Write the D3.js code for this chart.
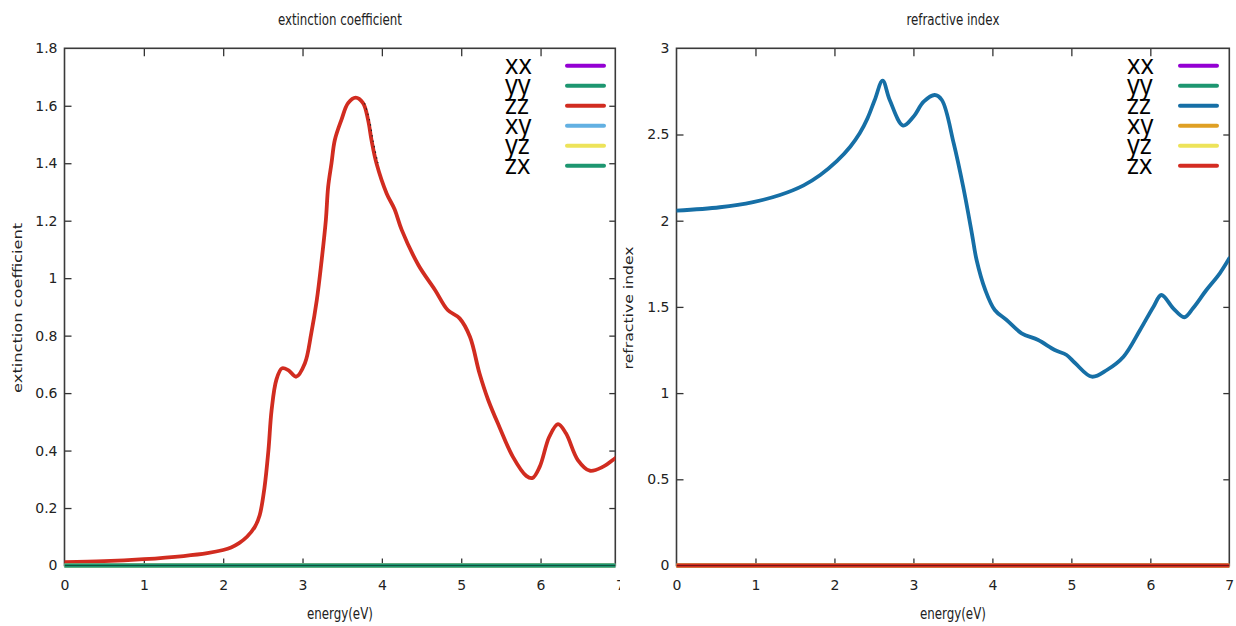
<!DOCTYPE html>
<html>
<head>
<meta charset="utf-8">
<script src="https://cdn.jsdelivr.net/npm/d3@7"></script>
<style>
  body { margin: 0; background: #fff; }
  svg { display: block; }
</style>
</head>
<body>
<svg id="chart" width="1236" height="626"></svg>
<script>
// Tensor components shown in both legends
const components = ["xx", "yy", "zz", "xy", "yz", "zx"];
const colorsExt = ["#9400d3", "#1d9670", "#d12c20", "#62b0e2", "#ede35a", "#1d9670"];
const colorsRef = ["#9400d3", "#1d9670", "#166fa6", "#dfa024", "#ede35a", "#d42c22"];

// Extinction coefficient, zz component
const energyExt = [0, 0.5, 1.0, 1.5, 1.8, 2.0, 2.1, 2.2, 2.3, 2.4, 2.46, 2.52, 2.57, 2.61, 2.67, 2.74,
  2.82, 2.92, 3.03, 3.11, 3.18, 3.24, 3.294, 3.323, 3.365, 3.407, 3.49, 3.574, 3.67, 3.763, 3.826,
  3.869, 3.932, 4.06, 4.16, 4.25, 4.46, 4.67, 4.83, 4.98, 5.11, 5.23, 5.34, 5.48, 5.65, 5.82, 5.9,
  5.99, 6.11, 6.22, 6.32, 6.47, 6.62, 6.79, 6.94, 7.0];
const kappaZZ = [0.012, 0.015, 0.022, 0.033, 0.043, 0.054, 0.063, 0.078, 0.1, 0.135, 0.175, 0.27,
  0.40, 0.54, 0.646, 0.686, 0.68, 0.657, 0.704, 0.808, 0.924, 1.06, 1.202, 1.318, 1.40, 1.481, 1.551,
  1.609, 1.628, 1.609, 1.551, 1.481, 1.40, 1.295, 1.24, 1.168, 1.046, 0.959, 0.889, 0.860, 0.796,
  0.669, 0.576, 0.483, 0.379, 0.312, 0.305, 0.344, 0.448, 0.492, 0.460, 0.367, 0.330, 0.344, 0.373, 0.385];

// Refractive index, zz component
const energyRef = [0, 0.55, 0.97, 1.31, 1.61, 1.82, 2.03, 2.20, 2.32, 2.42, 2.51, 2.61, 2.70, 2.87, 3.00,
  3.13, 3.27, 3.36, 3.51, 3.63, 3.74, 3.80, 3.91, 4.03, 4.18, 4.37, 4.58, 4.79, 4.94, 5.05, 5.26,
  5.45, 5.66, 5.87, 6.04, 6.14, 6.29, 6.43, 6.54, 6.71, 6.88, 7.0];
const nZZ = [2.058, 2.078, 2.108, 2.149, 2.205, 2.265, 2.345, 2.429, 2.507, 2.595, 2.700, 2.812, 2.700,
  2.552, 2.603, 2.690, 2.729, 2.700, 2.449, 2.197, 1.927, 1.772, 1.598, 1.482, 1.424, 1.347, 1.308,
  1.250, 1.221, 1.173, 1.095, 1.134, 1.211, 1.366, 1.501, 1.569, 1.492, 1.440, 1.492, 1.598, 1.695, 1.782];

// Components that stay at zero over the whole range
const flatEnergy = [0, 7];
const flatValue = [0, 0];

// Tick values
const xTicks = [0, 1, 2, 3, 4, 5, 6, 7];
const yTicksExt = [0, 0.2, 0.4, 0.6, 0.8, 1, 1.2, 1.4, 1.6, 1.8];
const yTicksRef = [0, 0.5, 1, 1.5, 2, 2.5, 3];

const svg = d3.select("#chart");
const fmt = d3.format("~g");

const panels = [
  {
    id: "ext", title: "extinction coefficient", titleLen: 124, ylabel: "extinction coefficient",
    ylabelX: 21.5, ylabelLen: 170, left: 64.5, right: 615.3, x7: 619.9, top: 48.3, bottom: 565.5,
    yMax: 1.8, yTicks: yTicksExt, energy: energyExt, values: kappaZZ, colors: colorsExt,
    legendTextX: 506, legendLine: [567, 604], clip: [0, 620], speckle: [3.72, 3.96]
  },
  {
    id: "ref", title: "refractive index", titleLen: 93, ylabel: "refractive index",
    ylabelX: 633.3, ylabelLen: 123, left: 676.5, right: 1229.3, x7: 1229.3, top: 48.3, bottom: 565.5,
    yMax: 3, yTicks: yTicksRef, energy: energyRef, values: nZZ, colors: colorsRef,
    legendTextX: 1128, legendLine: [1180, 1217], clip: [620, 616], speckle: null
  }
];

const defs = svg.append("defs");

panels.forEach(p => {
  const x = d3.scaleLinear().domain([0, 7]).range([p.left, p.x7]);
  const y = d3.scaleLinear().domain([0, p.yMax]).range([p.bottom, p.top]);

  defs.append("clipPath").attr("id", "panel-" + p.id)
    .append("rect").attr("x", p.clip[0]).attr("y", 0).attr("width", p.clip[1]).attr("height", 626);
  defs.append("clipPath").attr("id", "plot-" + p.id)
    .append("rect").attr("x", p.left).attr("y", p.top - 4)
    .attr("width", p.right - p.left).attr("height", p.bottom - p.top + 8);

  const g = svg.append("g").attr("clip-path", `url(#panel-${p.id})`);

  // Title
  g.append("text")
    .attr("x", (p.left + p.right) / 2).attr("y", 25)
    .attr("text-anchor", "middle")
    .attr("font-family", "DejaVu Sans").attr("font-size", 16).attr("fill", "#222")
    .attr("textLength", p.titleLen).attr("lengthAdjust", "spacingAndGlyphs")
    .text(p.title);

  // Axis labels
  g.append("text")
    .attr("x", (p.left + p.right) / 2).attr("y", 619)
    .attr("text-anchor", "middle")
    .attr("font-family", "DejaVu Sans").attr("font-size", 16).attr("fill", "#222")
    .attr("textLength", 66).attr("lengthAdjust", "spacingAndGlyphs")
    .text("energy(eV)");

  g.append("text")
    .attr("transform", `translate(${p.ylabelX},${(p.top + p.bottom) / 2 + 1}) scale(0.78,1) rotate(-90)`)
    .attr("text-anchor", "middle")
    .attr("font-family", "DejaVu Sans").attr("font-size", 16).attr("fill", "#222")
    .attr("textLength", p.ylabelLen).attr("lengthAdjust", "spacingAndGlyphs")
    .text(p.ylabel);

  const inside = xTicks.filter(v => x(v) <= p.right - 1);

  // Bottom axis with labels, inward ticks
  const bx = g.append("g").attr("transform", `translate(0,${p.bottom})`)
    .call(d3.axisBottom(x).tickValues(xTicks).tickFormat(fmt).tickSizeInner(-7).tickSizeOuter(0).tickPadding(15));
  bx.select(".domain").remove();
  bx.selectAll(".tick line").filter(v => v === 0 || x(v) > p.right - 1).remove();

  // Top axis ticks
  const tx = g.append("g").attr("transform", `translate(0,${p.top})`)
    .call(d3.axisTop(x).tickValues(inside.filter(v => v > 0 && x(v) < p.right - 2)).tickFormat("").tickSizeInner(-8).tickSizeOuter(0));
  tx.select(".domain").remove();

  // Left axis with labels
  const ly = g.append("g").attr("transform", `translate(${p.left},0)`)
    .call(d3.axisLeft(y).tickValues(p.yTicks).tickFormat(fmt).tickSizeInner(-7).tickSizeOuter(0).tickPadding(7));
  ly.select(".domain").remove();
  ly.selectAll(".tick line").filter(v => v === 0 || v === p.yMax).remove();

  // Right axis ticks
  const ry = g.append("g").attr("transform", `translate(${p.right},0)`)
    .call(d3.axisRight(y).tickValues(p.yTicks.filter(v => v > 0 && v < p.yMax)).tickFormat("").tickSizeInner(-6).tickSizeOuter(0));
  ry.select(".domain").remove();

  g.selectAll(".tick text")
    .attr("font-family", "DejaVu Sans").attr("font-size", 14).attr("fill", "#222");
  g.selectAll(".tick line").attr("stroke", "#333").attr("stroke-width", 1.3);

  // Frame
  g.append("rect")
    .attr("x", p.left).attr("y", p.top)
    .attr("width", p.right - p.left).attr("height", p.bottom - p.top)
    .attr("fill", "none").attr("stroke", "#3a3a3a").attr("stroke-width", 1.6);

  // Curves
  const line = d3.line().x(d => x(d[0])).y(d => y(d[1])).curve(d3.curveCatmullRom.alpha(0.5));
  const plot = g.append("g").attr("clip-path", `url(#plot-${p.id})`);
  components.forEach((c, i) => {
    const pts = c === "zz"
      ? p.energy.map((e, k) => [e, p.values[k]])
      : flatEnergy.map((e, k) => [e, flatValue[k]]);
    plot.append("path")
      .attr("d", line(pts))
      .attr("fill", "none")
      .attr("stroke", p.colors[i])
      .attr("stroke-width", 3.8)
      .attr("stroke-linejoin", "round")
      .attr("stroke-linecap", "round");
  });
  // dark edge along the zero level
  plot.append("line")
    .attr("x1", p.left).attr("x2", p.right)
    .attr("y1", p.bottom).attr("y2", p.bottom)
    .attr("stroke", "#000").attr("stroke-opacity", 0.45).attr("stroke-width", 1.2);

  // fine dotted trace along the falling edge of the main peak
  if (p.speckle) {
    const seg = p.energy.map((e, k) => [e, p.values[k]])
      .filter(d => d[0] >= p.speckle[0] && d[0] <= p.speckle[1]);
    plot.append("path")
      .attr("d", line(seg))
      .attr("transform", "translate(1.5,0)")
      .attr("fill", "none").attr("stroke", "#222")
      .attr("stroke-width", 1.1).attr("stroke-dasharray", "1.5,4");
  }

  // Legend
  const lg = g.append("g");
  components.forEach((c, i) => {
    const rowY = 65.7 + 20 * i;
    lg.append("text")
      .attr("transform", `translate(${p.legendTextX - 1},${rowY + 7.8}) scale(0.95,1)`)
      .attr("font-family", "Open Sans").attr("font-size", 27).attr("fill", "#000")
      .text(c);
    lg.append("line")
      .attr("x1", p.legendLine[0]).attr("x2", p.legendLine[1])
      .attr("y1", rowY).attr("y2", rowY)
      .attr("stroke", p.colors[i]).attr("stroke-width", 4).attr("stroke-linecap", "round");
  });
});
</script>
</body>
</html>
